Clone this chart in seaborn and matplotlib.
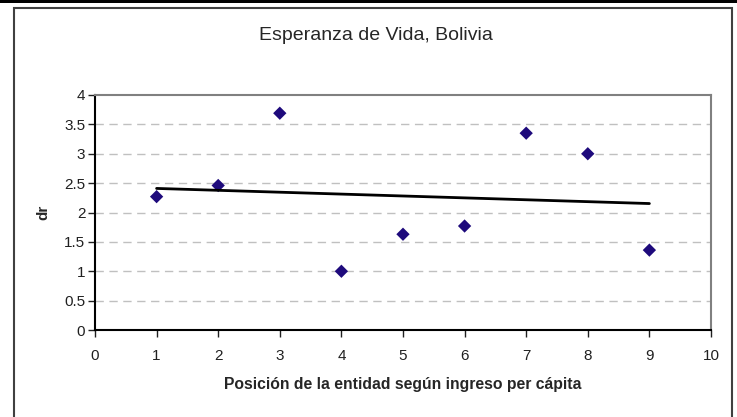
import numpy as np
import pandas as pd
import matplotlib
matplotlib.use("Agg")
import matplotlib.pyplot as plt
from matplotlib.patches import Rectangle
import seaborn as sns

# data
posicion = [1, 2, 3, 4, 5, 6, 7, 8, 9]
dr = [2.27, 2.46, 3.69, 1.00, 1.63, 1.77, 3.35, 3.00, 1.36]
x_ticks = [0, 1, 2, 3, 4, 5, 6, 7, 8, 9, 10]
y_ticks = [0, 0.5, 1, 1.5, 2, 2.5, 3, 3.5, 4]

df = pd.DataFrame({"posicion": posicion, "dr": dr})

sns.set_style("white")
plt.rcParams["font.family"] = ["Liberation Sans", "DejaVu Sans"]

fig = plt.figure(figsize=(7.37, 4.17), dpi=100)
ax = fig.add_axes([0.1289, 0.2086, 0.8358, 0.5636])

# horizontal dashed grid
for v in y_ticks[1:-1]:
    ax.axhline(v, color="#c0c0c0", lw=1, ls=(0, (6, 4)), zorder=0)

sns.regplot(data=df, x="posicion", y="dr", ax=ax, ci=None, marker="D",
            scatter_kws={"s": 46, "color": "#1e0a7c", "alpha": 1,
                         "edgecolors": "none", "zorder": 3},
            line_kws={"color": "black", "lw": 2, "zorder": 4})

ax.set_xlim(0, 10)
ax.set_ylim(0, 4)
ax.set_xticks(x_ticks)
ax.set_yticks(y_ticks)
ax.set_xticklabels([str(t) for t in x_ticks])
ax.set_yticklabels([f"{t:g}" for t in y_ticks])
ax.tick_params(axis="both", direction="out", length=5, width=1, labelsize=11,
               colors="#202020", pad=2)
ax.tick_params(axis="x", pad=9)
ax.xaxis.set_ticks_position("bottom")
ax.yaxis.set_ticks_position("left")

for side in ["left", "bottom"]:
    ax.spines[side].set_color("black")
    ax.spines[side].set_linewidth(1.5)
for side in ["top", "right"]:
    ax.spines[side].set_color("#808080")
    ax.spines[side].set_linewidth(1.5)

ax.set_xlabel("Posición de la entidad según ingreso per cápita", fontsize=11.3,
              fontweight="bold", labelpad=10)
ax.set_ylabel("dr", fontsize=11, fontweight="bold", labelpad=10)

fig.text(0.51, 0.914, "Esperanza de Vida, Bolivia", ha="center", va="center",
         fontsize=14)

# outer chart frame and top bar
fig.patches.append(Rectangle((14 / 737, -0.05), 718 / 737, 1 - 8 / 417 + 0.05,
                             transform=fig.transFigure, fill=False,
                             edgecolor="#404040", lw=1.5))
fig.patches.append(Rectangle((0, 1 - 3 / 417), 1, 3 / 417,
                             transform=fig.transFigure, color="black", lw=0))

fig.savefig("out.png", dpi=100)
